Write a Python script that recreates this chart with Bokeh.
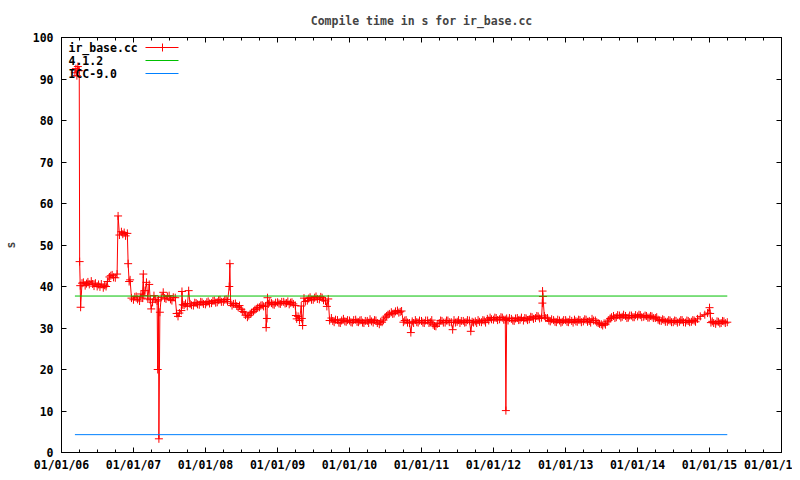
import pandas as pd
from bokeh.plotting import figure
from bokeh.models import (FixedTicker, DatetimeTickFormatter, DatetimeAxis, LinearAxis,
                          Range1d, Label, Arrow, ColumnDataSource)
from bokeh.embed import file_html
from bokeh.resources import INLINE

TITLE = "Compile time in s for ir_base.cc"
Y_LABEL = "s"
SERIES_NAMES = ["ir_base.cc", "4.1.2", "ICC-9.0"]
X_TICK_YEARS = list(range(2006, 2017))
Y_TICKS = list(range(0, 101, 10))

# reference compilers (constant lines)
ref_dates = ["2006-03-10", "2015-04-01"]
ref_412 = [37.7, 37.7]
ref_icc = [4.3, 4.3]

# ir_base.cc compile time (s), weekly readings (days 1, 8, 15, 22 of each month)
WEEK_DAYS = [1, 8, 15, 22]
ir_2006 = {4: [None, None, 40.8, 41.0], 5: [40.2, 40.7, 41.1, 40.5], 6: [41.3, 40.6, 40.1, 40.8],
           7: [40.0, 40.5, 39.9, 40.6], 8: [39.7, 40.3, 40.0, 41.2], 9: [42.3, 42.6, 42.8, 42.2],
           10: [42.1, None, None, 52.4], 11: [53.2, 52.6, 53.0, 52.2], 12: [52.8, None, 41.6, 37.2]}
ir_2007 = {1: [36.8, 37.5, 37.6, 36.9], 2: [36.5, 38.2, 37.2, 37.8], 3: [39.0, 41.0, 37.0, 40.5],
           4: [34.6, 36.2, 37.8, 36.9], 5: [36.5, 36.8, 33.8, 37.4], 6: [38.6, 37.2, 37.0, 37.6],
           7: [37.8, 36.9, 36.6, 37.4], 8: [37.3, 33.5, 32.8, 33.6], 9: [34.2, 35.6, 35.5, 35.9],
           10: [35.2, 39.0, 35.8, 35.5], 11: [35.4, 36.1, 36.0, 35.7], 12: [35.6, 36.3, 36.2, 35.8]}
ir_2008 = {1: [35.7, 36.2, 36.4, 35.9], 2: [36.0, 36.5, 36.6, 36.1], 3: [36.2, 36.7, 36.8, 36.3],
           4: [36.3, 36.8, 36.9, 36.4], 5: [40.0, 36.0, 35.4, 35.8], 6: [35.9, 35.3, 35.0, 35.4],
           7: [34.5, 34.0, 33.8, 33.1], 8: [32.6, 33.0, 33.4, 33.7], 9: [34.0, 34.4, 34.6, 34.9],
           10: [35.0, 35.4, 35.5, 35.2], 11: [35.3, 32.3, 35.8, 36.2], 12: [36.0, 35.7, 35.6, 36.1]}
ir_2009 = {1: [36.2, 35.9, 35.8, 36.3], 2: [36.3, 35.9, 36.0, 36.4], 3: [35.7, 36.1, 36.2, 35.8],
           4: [35.4, 32.2, 32.8, 31.8], 5: [35.3, 30.6, 37.2, 36.4], 6: [36.6, 37.1, 37.4, 36.8],
           7: [36.8, 37.3, 37.6, 37.0], 8: [36.9, 37.5, 37.3, 36.7], 9: [36.5, 35.2, 37.0, 31.8],
           10: [32.4, 31.7, 31.4, 32.0], 11: [31.9, 31.3, 31.2, 31.8], 12: [32.2, 31.6, 31.5, 31.9]}
ir_2010 = {1: [31.8, 31.4, 31.3, 31.9], 2: [32.0, 31.5, 31.4, 31.8], 3: [31.9, 31.3, 31.2, 31.7],
           4: [31.7, 31.2, 32.1, 31.6], 5: [31.3, 31.9, 31.8, 31.2], 6: [30.9, 31.5, 31.4, 31.9],
           7: [32.6, 32.9, 33.2, 33.4], 8: [33.8, 33.4, 33.5, 34.0], 9: [34.2, 33.7, 33.9, 34.1],
           10: [31.4, 31.8, 31.9, 31.3], 11: [31.2, 28.9, 31.6, 31.2], 12: [31.9, 31.4, 31.3, 31.8]}
ir_2011 = {1: [31.7, 31.3, 31.2, 31.8], 2: [31.8, 31.2, 31.4, 31.9], 3: [30.8, 30.5, 30.4, 31.0],
           4: [31.2, 31.8, 31.7, 31.3], 5: [31.3, 31.8, 31.8, 31.4], 6: [31.4, 29.6, 31.9, 31.3],
           7: [31.5, 31.9, 31.2, 31.7], 8: [31.7, 31.3, 31.4, 31.9], 9: [31.8, 29.2, 31.5, 31.3],
           10: [31.6, 31.2, 31.9, 31.5], 11: [31.4, 31.9, 31.8, 31.3], 12: [32.2, 31.8, 32.5, 32.1]}
ir_2012 = {1: [32.0, 32.5, 32.4, 31.9], 2: [32.1, 32.6, 32.5, 32.0], 3: [32.0, 32.3, 31.8, 32.4],
           4: [32.2, 31.8, 31.7, 32.3], 5: [32.4, 31.9, 32.0, 32.5], 6: [31.8, 32.4, 32.3, 31.9],
           7: [32.1, 32.7, 32.6, 32.2], 8: [32.4, 32.9, 32.8, 32.3], 9: [32.5, 37.6, 32.9, 32.4],
           10: [32.4, 31.8, 31.6, 32.1], 11: [31.9, 31.5, 31.4, 32.0], 12: [31.8, 31.3, 31.5, 31.9]}
ir_2013 = {1: [31.9, 31.5, 31.4, 32.0], 2: [31.7, 31.3, 32.0, 31.6], 3: [31.5, 32.0, 31.9, 31.4],
           4: [31.6, 32.1, 32.0, 31.5], 5: [31.7, 31.3, 32.2, 31.8], 6: [31.8, 31.4, 31.2, 31.0],
           7: [30.9, 30.6, 31.1, 30.8], 8: [31.5, 31.9, 32.3, 32.6], 9: [32.9, 32.4, 32.6, 33.1],
           10: [33.0, 32.5, 32.7, 33.2], 11: [32.9, 32.4, 32.5, 33.0], 12: [33.0, 32.6, 32.6, 33.1]}
ir_2014 = {1: [32.8, 33.2, 33.1, 32.6], 2: [32.7, 33.0, 32.9, 32.5], 3: [32.5, 32.9, 32.8, 32.4],
           4: [32.4, 32.6, 32.0, 31.8], 5: [31.7, 32.1, 31.9, 31.5], 6: [31.5, 31.9, 31.8, 31.4],
           7: [31.4, 31.8, 31.7, 31.3], 8: [31.5, 31.9, 31.9, 31.4], 9: [31.3, 31.8, 31.7, 31.4],
           10: [31.5, 31.9, 31.8, 31.5], 11: [32.2, None, 32.8, None], 12: [None, 33.2, None, 33.6]}
ir_2015 = {1: [34.9, 31.3, 31.6, 31.2], 2: [31.0, 31.6, 31.5, 31.1], 3: [31.2, 31.7, 31.6, 31.2],
           4: [31.4, None, None, None]}

# extra (off-schedule) readings, mostly spikes
ir_extra = [("2006-03-10", 91.5), ("2006-03-15", 92.5), ("2006-03-20", 90.8), ("2006-03-25", 93.0),
            ("2006-04-01", 92.0), ("2006-04-03", 46.0), ("2006-04-06", 40.2), ("2006-04-08", 35.0),
            ("2006-10-10", 43.0), ("2006-10-15", 57.0), ("2006-12-05", 45.5), ("2006-12-10", 41.2),
            ("2007-02-20", 43.0), ("2007-03-27", 36.8), ("2007-05-04", 20.0), ("2007-05-10", 3.3),
            ("2007-09-04", 38.8), ("2008-05-04", 45.5), ("2008-11-04", 30.1), ("2008-11-11", 37.3),
            ("2009-04-04", 33.0), ("2009-05-04", 32.3), ("2012-03-04", 10.1), ("2012-09-05", 36.0),
            ("2012-09-06", 38.9), ("2015-01-04", 33.5)]

readings = []
for year, months in [(2006, ir_2006), (2007, ir_2007), (2008, ir_2008), (2009, ir_2009),
                     (2010, ir_2010), (2011, ir_2011), (2012, ir_2012), (2013, ir_2013),
                     (2014, ir_2014), (2015, ir_2015)]:
    for month, vals in months.items():
        for day, v in zip(WEEK_DAYS, vals):
            if v is not None:
                readings.append((pd.Timestamp(year=year, month=month, day=day), v))
for d, v in ir_extra:
    readings.append((pd.Timestamp(d), v))
readings.sort(key=lambda r: r[0])
ir_dates = [r[0] for r in readings]
ir_secs = [r[1] for r in readings]

RED, GREEN, BLUE = "#ff0000", "#00c000", "#0080ff"
FONT = "DejaVu Sans Mono"
FS = "11.5px"

x_start = pd.Timestamp(f"{X_TICK_YEARS[0]}-01-01")
x_end = pd.Timestamp(f"{X_TICK_YEARS[-1]}-01-01")

p = figure(frame_width=720, frame_height=415, x_axis_type="datetime",
           x_range=Range1d(start=x_start, end=x_end), y_range=Range1d(start=0, end=100),
           output_backend="svg", toolbar_location=None,
           min_border_left=53, min_border_right=11, min_border_top=37, min_border_bottom=19)
p.background_fill_color = "white"
p.border_fill_color = "white"
p.outline_line_color = "black"
p.outline_line_width = 1
p.grid.visible = False

p.title.text = TITLE
p.title.align = "center"
p.title.text_font = FONT
p.title.text_font_size = FS
p.title.text_font_style = "bold"
p.title.standoff = 19


def ms(ts):
    return ts.value / 1e6


major_x = [ms(pd.Timestamp(f"{y}-01-01")) for y in X_TICK_YEARS]
minor_x = [ms(t) for t in pd.date_range(x_start, x_end, freq="QS")]
xticker = FixedTicker(ticks=major_x, minor_ticks=minor_x)
yticker = FixedTicker(ticks=Y_TICKS)
fmt = "%m/%d/%y"
xfmt = DatetimeTickFormatter(microseconds=fmt, milliseconds=fmt, seconds=fmt, minsec=fmt,
                             minutes=fmt, hourmin=fmt, hours=fmt, days=fmt, months=fmt, years=fmt)


def style_axis(ax, show_labels=True, minor=False):
    ax.axis_line_color = "black"
    ax.major_tick_in = 5
    ax.major_tick_out = 0
    ax.major_tick_line_color = "black"
    if minor:
        ax.minor_tick_in = 3
        ax.minor_tick_out = 0
        ax.minor_tick_line_color = "black"
    else:
        ax.minor_tick_line_color = None
    if show_labels:
        ax.major_label_text_font = FONT
        ax.major_label_text_font_size = FS
        ax.major_label_text_font_style = "bold"
        ax.major_label_text_color = "black"
    else:
        ax.major_label_text_font_size = "0px"
        ax.major_label_text_color = None
        ax.major_label_standoff = 0


bottom = p.below[0]
bottom.ticker = xticker
bottom.formatter = xfmt
style_axis(bottom, True, True)
bottom.major_label_standoff = 5
# the last year label is cut by the image edge in the original
bottom.major_label_overrides = {major_x[-1]: "01/01/1"}

left = p.left[0]
left.ticker = yticker
style_axis(left, True, False)
left.major_label_standoff = 8
left.axis_label = Y_LABEL
left.axis_label_text_font = FONT
left.axis_label_text_font_size = FS
left.axis_label_text_font_style = "bold"
left.axis_label_standoff = 12

top = DatetimeAxis(ticker=xticker, formatter=xfmt)
style_axis(top, False, True)
p.add_layout(top, "above")
right = LinearAxis(ticker=yticker)
style_axis(right, False, False)
p.add_layout(right, "right")

# data
src = ColumnDataSource(dict(x=ir_dates, y=ir_secs))
p.line("x", "y", source=src, line_color=RED, line_width=1)
p.scatter("x", "y", source=src, marker="cross", size=8, line_color=RED, line_width=1)

rd = pd.to_datetime(ref_dates)
p.line(rd, ref_412, line_color=GREEN, line_width=1)
p.line(rd, ref_icc, line_color=BLUE, line_width=1)

# gnuplot-style key (text first, sample after), positioned in pixel offsets from frame top-left
span_ms = ms(x_end) - ms(x_start)


def xpix(px):
    return ms(x_start) + span_ms * px / 720.0


def ypix(px):
    return 100 - 100 * px / 415.0


rows = [10, 23, 36]
colors = [RED, GREEN, BLUE]
for name, row, col in zip(SERIES_NAMES, rows, colors):
    p.add_layout(Label(x=xpix(7), y=ypix(row), text=name, text_font=FONT, text_font_size=FS,
                       text_font_style="bold", text_baseline="middle", text_align="left",
                       text_color="black"))
    p.add_layout(Arrow(end=None, x_start=xpix(84), y_start=ypix(row), x_end=xpix(117), y_end=ypix(row),
                       line_color=col, line_width=1))
p.add_layout(Arrow(end=None, x_start=xpix(101), y_start=ypix(rows[0] - 4), x_end=xpix(101),
                   y_end=ypix(rows[0] + 4), line_color=RED, line_width=1))

open("out.html", "w").write(file_html(p, INLINE))
